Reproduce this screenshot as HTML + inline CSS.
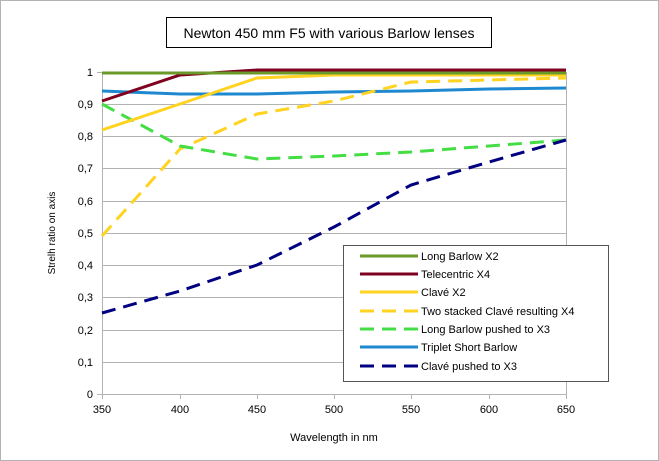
<!DOCTYPE html>
<html><head><meta charset="utf-8"><style>
html,body{margin:0;padding:0;background:#fff;}
svg{display:block;font-family:"Liberation Sans",sans-serif;}
</style></head><body>
<svg width="659" height="461" viewBox="0 0 659 461" xmlns="http://www.w3.org/2000/svg">
<rect x="0.5" y="0.5" width="658" height="460" fill="#fff" stroke="#b3b3b3"/>
<rect x="166.5" y="17.5" width="325" height="30" fill="#fff" stroke="#000"/>
<text x="329" y="38" font-size="14" text-anchor="middle">Newton 450 mm F5 with various Barlow lenses</text>
<g stroke="#b3b3b3" stroke-width="1">
<line x1="102" y1="72.5" x2="566" y2="72.5"/><line x1="102" y1="104.5" x2="566" y2="104.5"/>
<line x1="102" y1="136.5" x2="566" y2="136.5"/><line x1="102" y1="168.5" x2="566" y2="168.5"/>
<line x1="102" y1="201.5" x2="566" y2="201.5"/><line x1="102" y1="233.5" x2="566" y2="233.5"/>
<line x1="102" y1="265.5" x2="566" y2="265.5"/><line x1="102" y1="297.5" x2="566" y2="297.5"/>
<line x1="102" y1="330.5" x2="566" y2="330.5"/><line x1="102" y1="362.5" x2="566" y2="362.5"/>
<line x1="102" y1="394.5" x2="566" y2="394.5"/>
<line x1="102.5" y1="72" x2="102.5" y2="394"/><line x1="566.5" y1="72" x2="566.5" y2="394"/>
<line x1="180.5" y1="394" x2="180.5" y2="399"/><line x1="257.5" y1="394" x2="257.5" y2="399"/>
<line x1="334.5" y1="394" x2="334.5" y2="399"/><line x1="411.5" y1="394" x2="411.5" y2="399"/>
<line x1="489.5" y1="394" x2="489.5" y2="399"/><line x1="566.5" y1="394" x2="566.5" y2="399"/>
<line x1="102.5" y1="394" x2="102.5" y2="399"/>
<line x1="97" y1="72.5" x2="102" y2="72.5"/><line x1="97" y1="394.5" x2="102" y2="394.5"/>
</g>
<g font-size="11" text-anchor="end">
<text x="93" y="76">1</text><text x="93" y="108">0,9</text><text x="93" y="140">0,8</text>
<text x="93" y="172">0,7</text><text x="93" y="205">0,6</text><text x="93" y="237">0,5</text>
<text x="93" y="269">0,4</text><text x="93" y="301">0,3</text><text x="93" y="334">0,2</text>
<text x="93" y="366">0,1</text><text x="93" y="398">0</text>
</g>
<g font-size="11" text-anchor="middle">
<text x="102" y="413">350</text><text x="180" y="413">400</text><text x="257" y="413">450</text>
<text x="334" y="413">500</text><text x="411" y="413">550</text><text x="489" y="413">600</text><text x="566" y="413">650</text>
<text x="334" y="441">Wavelength in nm</text>
</g>
<text transform="translate(55,233) rotate(-90)" font-size="10" text-anchor="middle">Strelh ratio on axis</text>
<g fill="none" stroke-width="3">
<polyline stroke="#1e88d0" points="102,91 180,94 257,94 334,92 411,91 489,89 566,88"/>
<polyline stroke="#ffd320" stroke-dasharray="14,8" points="102,236 180,149 257,114 334,101 411,82 489,80 566,78"/>
<polyline stroke="#44dd44" stroke-dasharray="14,8" points="102,104 180,146 257,159 334,156 411,152 489,146 566,140"/>
<polyline stroke="#000080" stroke-dasharray="14,8" points="102,313 180,291 257,265 334,227 411,185 489,162 566,140"/>
<polyline stroke="#ffd320" points="102,130 180,104 257,78 334,75 411,75 489,75 566,75"/>
<polyline stroke="#800020" points="102,101 180,75 257,70 334,70 411,70 489,70 566,70"/>
<polyline stroke="#6a9a2a" points="102,73 566,73"/>
</g>
<rect x="343.5" y="245.5" width="265" height="136" fill="#fff" stroke="#555"/>
<g stroke-width="3">
<line x1="360" y1="256" x2="418" y2="256" stroke="#6a9a2a"/>
<line x1="360" y1="274" x2="418" y2="274" stroke="#800020"/>
<line x1="360" y1="292" x2="418" y2="292" stroke="#ffd320"/>
<line x1="360" y1="311" x2="418" y2="311" stroke="#ffd320" stroke-dasharray="14,8"/>
<line x1="360" y1="329" x2="418" y2="329" stroke="#44dd44" stroke-dasharray="14,8"/>
<line x1="360" y1="347" x2="418" y2="347" stroke="#1e88d0"/>
<line x1="360" y1="366" x2="418" y2="366" stroke="#000080" stroke-dasharray="14,8"/>
</g>
<g font-size="11">
<text x="421" y="260">Long Barlow X2</text>
<text x="421" y="278">Telecentric X4</text>
<text x="421" y="296">Clavé X2</text>
<text x="421" y="315">Two stacked Clavé resulting X4</text>
<text x="421" y="333">Long Barlow pushed to X3</text>
<text x="421" y="351">Triplet Short Barlow</text>
<text x="421" y="370">Clavé pushed to X3</text>
</g>
</svg>
</body></html>
